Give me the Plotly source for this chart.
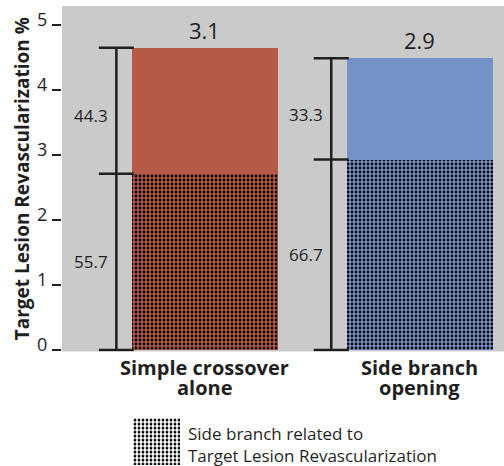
import plotly.graph_objects as go

categories = ["Simple crossover alone", "Side branch opening"]
cat_line1 = ["Simple crossover", "Side branch"]
cat_line2 = ["alone", "opening"]
# bar segment heights
sb_related = [2.71, 2.93]      # dotted (side-branch related) part
other_part = [1.94, 1.56]      # solid upper part
total_labels = ["3.1", "2.9"]
pct_bottom = ["55.7", "66.7"]
pct_top = ["44.3", "33.3"]
bar_colors = ["#B55A47", "#7292C8"]
y_ticks = [0, 1, 2, 3, 4, 5]
legend_text = ["Side branch related to", "Target Lesion Revascularization"]

FONT = "Open Sans"
DARK = "#1f1f1f"
GRAY = "#CACACB"
PAT_SIZE = 4
PAT_SOLID = 0.38

xs = list(range(len(categories)))
totals = [a + b for a, b in zip(sb_related, other_part)]
bw = 0.68

fig = go.Figure()
for i in xs:
    fig.add_trace(go.Bar(
        x=[xs[i]], y=[sb_related[i]], width=bw,
        marker=dict(color=bar_colors[i], line=dict(width=0),
                    pattern=dict(shape=".", fgcolor="#000000", bgcolor=bar_colors[i],
                                 fgopacity=1, size=PAT_SIZE, solidity=PAT_SOLID, fillmode="replace")),
        showlegend=False, hoverinfo="skip"))
for i in xs:
    fig.add_trace(go.Bar(
        x=[xs[i]], y=[other_part[i]], width=bw,
        marker=dict(color=bar_colors[i], line=dict(width=0)),
        showlegend=False, hoverinfo="skip"))

# brackets
bx_off = -0.412
for i in xs:
    bx = i + bx_off
    fig.add_trace(go.Scatter(
        x=[bx, bx, bx], y=[0, sb_related[i], totals[i]],
        mode="lines+markers",
        line=dict(color=DARK, width=2.5),
        marker=dict(symbol="line-ew", size=25, line=dict(color=DARK, width=2.5)),
        showlegend=False, hoverinfo="skip"))

annotations = []
for i in xs:
    annotations.append(dict(x=i, y=totals[i], xref="x", yref="y", text=total_labels[i],
                            showarrow=False, yanchor="bottom", yshift=1,
                            font=dict(family=FONT, size=22, color=DARK)))
    annotations.append(dict(x=i - 0.53, y=sb_related[i] / 2, xref="x", yref="y", text=pct_bottom[i],
                            showarrow=False, xanchor="center", yanchor="middle",
                            font=dict(family=FONT, size=17, color=DARK)))
    annotations.append(dict(x=i - 0.53, y=sb_related[i] + other_part[i] / 2 - 0.08, xref="x", yref="y",
                            text=pct_top[i], showarrow=False, xanchor="center", yanchor="middle",
                            font=dict(family=FONT, size=17, color=DARK)))
    annotations.append(dict(x=i, y=0.215, xref="x", yref="paper", text="<b>%s</b>" % cat_line1[i],
                            showarrow=False, xanchor="center", yanchor="middle",
                            font=dict(family=FONT, size=20, color=DARK)))
    annotations.append(dict(x=i, y=0.171, xref="x", yref="paper", text="<b>%s</b>" % cat_line2[i],
                            showarrow=False, xanchor="center", yanchor="middle",
                            font=dict(family=FONT, size=20, color=DARK)))

for k, t in enumerate(legend_text):
    annotations.append(dict(x=0.2805, y=[0.0717, 0.0239][k], xref="paper", yref="paper", text=t,
                            showarrow=False, xanchor="left", yanchor="middle",
                            font=dict(family=FONT, size=17, color=DARK)))

# legend swatch on its own small axis
fig.add_trace(go.Bar(
    x=[0], y=[1], width=1, xaxis="x2", yaxis="y2",
    marker=dict(color="white", line=dict(width=0),
                pattern=dict(shape=".", fgcolor="#000000", bgcolor="white", fgopacity=1,
                             size=PAT_SIZE, solidity=PAT_SOLID, fillmode="replace")),
    showlegend=False, hoverinfo="skip"))

fig.update_layout(
    width=504, height=466,
    margin=dict(l=62, r=0, t=6, b=0, autoexpand=False),
    paper_bgcolor="white", plot_bgcolor="white",
    barmode="stack", bargap=0,
    showlegend=False,
    annotations=annotations,
    shapes=[dict(type="rect", xref="x domain", yref="y domain", x0=0, x1=1, y0=0, y1=1,
                 fillcolor=GRAY, line=dict(width=0), layer="below")],
    xaxis=dict(range=[-0.665, 1.392], showticklabels=False, showgrid=False, zeroline=False,
               showline=False, ticks="", automargin=False),
    yaxis=dict(domain=[0.249, 1], range=[-0.023, 5.292], tickvals=y_ticks,
               ticks="outside", ticklen=9, tickwidth=1.5, tickcolor=DARK,
               ticklabelshift=-5, ticklabelstandoff=1, automargin=False,
               tickfont=dict(family=FONT, size=18, color=DARK),
               showgrid=False, zeroline=False, showline=False,
               title=dict(text="<b>Target Lesion Revascularization %</b>", standoff=2,
                          font=dict(family=FONT, size=19, color=DARK))),
    xaxis2=dict(domain=[0.1606, 0.267], range=[-0.5, 0.5], visible=False, anchor="y2",
                automargin=False),
    yaxis2=dict(domain=[0.002, 0.104], range=[0, 1], visible=False, anchor="x2",
                automargin=False),
)

page_fit = (
    "document.documentElement.style.overflow='hidden';"
    "document.body.style.margin='0';"
    "document.body.style.overflow='hidden';"
)
fig.write_html("out.html", config={"displayModeBar": False}, post_script=page_fit)
